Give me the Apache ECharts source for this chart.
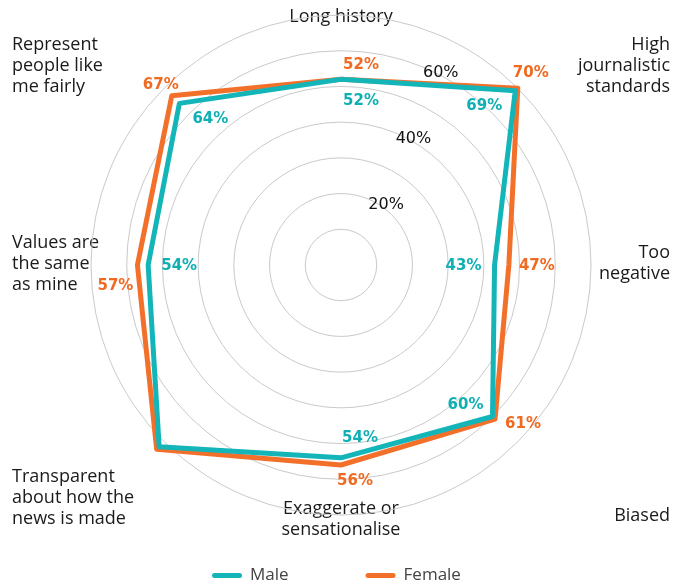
<!DOCTYPE html>
<html><head><meta charset="utf-8">
<script src="https://cdn.jsdelivr.net/npm/echarts@6/dist/echarts.min.js"></script>
<style>html,body{margin:0;padding:0;background:#fff}#chart{width:688px;height:587px}</style>
</head><body><div id="chart"></div>
<script>
// ---- data (clockwise from top) ----
const categories = ['Long history', 'High\njournalistic\nstandards', 'Too\nnegative', 'Biased', 'Exaggerate or\nsensationalise', 'Transparent\nabout how the\nnews is made', 'Values are\nthe same\nas mine', 'Represent\npeople like\nme fairly'];
const maleValues = [52, 69, 43, 60, 54, 72, 54, 64];
const femaleValues = [52, 70, 47, 61, 56, 73, 57, 67];
const seriesNames = ['Male', 'Female'];
const ringTickLabels = [20, 40, 60];
const scaleMax = 70;
const scaleStep = 10;

// ---- styles / layout ----
const CENTER = [341, 265];
const RADIUS = 250;
const MALE_COLOR = '#13b5b9';
const FEMALE_COLOR = '#f3702b';
const MALE_TEXT = '#0fb0b4';
const FEMALE_TEXT = '#f06a22';
const maleLabelOffsets = [[20, 22], [-31, 15], [-31, 1], [-27, -11], [19, -20], [32, -15], [31, 1], [31, 16]];
const femaleLabelOffsets = [[20, -14], [13, -15], [28, 1], [28, 5], [14, 16], [-28, 0], [-22, 21], [-11, -11]];
const nameLayout = [
  { x: 341, y: 17, align: 'center' },
  { x: 670, y: 66, align: 'right' },
  { x: 670, y: 263, align: 'right' },
  { x: 670, y: 516, align: 'right' },
  { x: 341, y: 519, align: 'center' },
  { x: 12, y: 498, align: 'left' },
  { x: 12, y: 264, align: 'left' },
  { x: 12, y: 66, align: 'left' }
];
// radar lays indicators counter-clockwise; reorder the clockwise categories
const radarOrder = [0, 7, 6, 5, 4, 3, 2, 1];

function labelSeries(name, values, offsets, color) {
  return {
    type: 'scatter', name: name, coordinateSystem: 'polar', polarIndex: 0,
    symbol: 'circle', symbolSize: 1, itemStyle: { color: 'rgba(0,0,0,0)' },
    silent: true, z: 10,
    data: values.map((v, i) => ({ value: [v, i], label: { offset: offsets[i] } })),
    label: {
      show: true, position: 'inside',
      formatter: p => p.value[0] + '%',
      color: color, opacity: 1, textBorderWidth: 0,
      fontFamily: 'DejaVu Sans', fontWeight: 'bold', fontSize: 15
    }
  };
}

const chart = echarts.init(document.getElementById('chart'), null, { renderer: 'canvas' });
chart.setOption({
  animation: false,
  backgroundColor: '#fff',
  radar: {
    center: CENTER, radius: RADIUS, startAngle: 90, splitNumber: 7,
    indicator: radarOrder.map(i => ({ name: categories[i], min: 0, max: scaleMax })),
    axisName: { show: false },
    splitLine: { show: false }, splitArea: { show: false },
    axisLine: { show: false }, axisTick: { show: false }, axisLabel: { show: false },
    silent: true
  },
  polar: [
    { center: CENTER, radius: RADIUS },
    { center: CENTER, radius: RADIUS }
  ],
  angleAxis: [
    { polarIndex: 0, type: 'category', data: categories, startAngle: 90, clockwise: true, boundaryGap: false, show: false },
    { polarIndex: 1, type: 'value', min: 0, max: 360, startAngle: 67.5, show: false }
  ],
  radiusAxis: [
    { polarIndex: 0, type: 'value', min: 0, max: scaleMax, show: false },
    {
      polarIndex: 1, type: 'value', min: 0, max: scaleMax, interval: scaleStep,
      axisLine: { show: false }, axisTick: { show: false },
      splitLine: { show: true, lineStyle: { color: '#cacaca', width: 1 } },
      axisLabel: {
        show: true, formatter: v => ringTickLabels.includes(v) ? v + '%' : '',
        align: 'left', verticalAlign: 'top', lineHeight: 12, margin: 0,
        color: '#111', fontFamily: 'DejaVu Sans', fontSize: 16
      }
    }
  ],
  legend: {
    data: seriesNames, left: 212, top: 567, padding: 0, itemGap: 77,
    itemWidth: 30, itemHeight: 5,
    icon: 'path://M2.5,0H27.5A2.5,2.5,0,0,1,27.5,5H2.5A2.5,2.5,0,0,1,2.5,0Z',
    textStyle: { fontFamily: 'Open Sans', fontSize: 17, color: '#444', padding: [0, 0, 0, 3] },
    selectedMode: false
  },
  graphic: categories.map((c, i) => ({
    type: 'text', x: nameLayout[i].x, y: nameLayout[i].y, silent: true,
    style: {
      text: c, align: nameLayout[i].align, textAlign: nameLayout[i].align,
      verticalAlign: 'middle', textVerticalAlign: 'middle',
      font: '18px "Open Sans"', fill: '#1a1a1a', lineHeight: 21
    }
  })),
  series: [
    {
      type: 'radar', radarIndex: 0, symbol: 'none', silent: true, z: 3,
      data: [
        { name: 'Female', value: radarOrder.map(i => femaleValues[i]), lineStyle: { color: FEMALE_COLOR, width: 5 }, itemStyle: { color: FEMALE_COLOR } },
        { name: 'Male', value: radarOrder.map(i => maleValues[i]), lineStyle: { color: MALE_COLOR, width: 5 }, itemStyle: { color: MALE_COLOR } }
      ]
    },
    labelSeries('Male %', maleValues, maleLabelOffsets, MALE_TEXT),
    labelSeries('Female %', femaleValues, femaleLabelOffsets, FEMALE_TEXT)
  ]
});
</script></body></html>
